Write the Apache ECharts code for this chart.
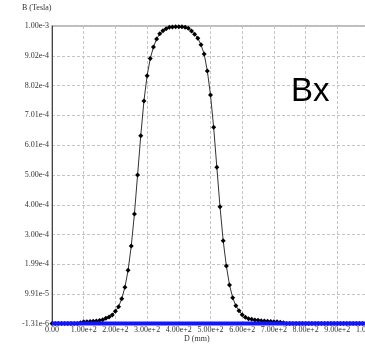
<!DOCTYPE html>
<html>
<head>
<meta charset="utf-8">
<script src="https://cdn.jsdelivr.net/npm/echarts@6/dist/echarts.min.js"></script>
<style>
  html, body { margin: 0; padding: 0; background: #fff; }
  #chart { width: 365px; height: 354px; }
</style>
</head>
<body>
<div id="chart"></div>
<script>
// Position along the path (mm)
const positions = [
  0, 10, 20, 30, 40, 50, 60, 70, 80, 90,
  100, 110, 120, 130, 140, 150, 160, 170, 180, 190,
  200, 210, 220, 230, 240, 250, 260, 270, 280, 290,
  300, 310, 320, 330, 340, 350, 360, 370, 380, 390,
  400, 410, 420, 430, 440, 450, 460, 470, 480, 490,
  500, 510, 520, 530, 540, 550, 560, 570, 580, 590,
  600, 610, 620, 630, 640, 650, 660, 670, 680, 690,
  700, 710, 720, 730, 740, 750, 760, 770, 780, 790,
  800, 810, 820, 830, 840, 850, 860, 870, 880, 890,
  900, 910, 920, 930, 940, 950, 960, 970, 980, 990, 1000
];

// Bx component (Tesla)
const bx = [
  0, 0, 0, 0, 0, 0, 0, 0, 0, 3.0e-6,
  6.0e-6, 6.5e-6, 7.2e-6, 8.0e-6, 9.0e-6, 1.05e-5, 1.32e-5, 1.79e-5, 2.23e-5, 2.9e-5,
  4.15e-5, 5.7e-5, 8.39e-5, 1.223e-4, 1.796e-4, 2.614e-4, 3.692e-4, 5.006e-4, 6.329e-4, 7.498e-4,
  8.35e-4, 8.93e-4, 9.317e-4, 9.586e-4, 9.765e-4, 9.866e-4, 9.933e-4, 9.98e-4, 9.993e-4, 1.0e-3,
  1.0e-3, 9.995e-4, 9.98e-4, 9.947e-4, 9.856e-4, 9.745e-4, 9.61e-4, 9.394e-4, 9.081e-4, 8.509e-4,
  7.70e-4, 6.612e-4, 5.265e-4, 3.938e-4, 2.793e-4, 1.941e-4, 1.301e-4, 8.73e-5, 6.03e-5, 4.35e-5,
  3.0e-5, 2.13e-5, 1.66e-5, 1.45e-5, 1.22e-5, 1.12e-5, 1.0e-5, 9.0e-6, 8.0e-6, 7.2e-6,
  6.5e-6, 6.0e-6, 5.0e-6, 3.0e-6, 0, 0, 0, 0, 0, 0,
  0, 0, 0, 0, 0, 0, 0, 0, 0, 0,
  0, 0, 0, 0, 0, 0, 0, 0, 0, 0, 0
];

// Reference trace along the bottom
const baseline = positions.map(() => 0);

const xTickLabels = [
  '0.00', '1.00e+2', '2.00e+2', '3.00e+2', '4.00e+2', '5.00e+2',
  '6.00e+2', '7.00e+2', '8.00e+2', '9.00e+2', '1.00e+3'
];
const yTickLabels = [
  '-1.31e-6', '9.91e-5', '1.99e-4', '3.00e-4', '4.00e-4', '5.00e-4',
  '6.01e-4', '7.01e-4', '8.02e-4', '9.02e-4', '1.00e-3'
];

// Y scale: ten equal divisions starting at the minimum
const yMin = -1.31e-6;
const yStep = 1.0037e-4;
const yTickValues = yTickLabels.map((_, i) => yMin + i * yStep);

const serif = '"Liberation Serif", "DejaVu Serif", serif';
const dashed = { color: '#c4c4c4', width: 1, type: [3, 2] };

const chart = echarts.init(document.getElementById('chart'), null, { renderer: 'canvas' });
chart.setOption({
  animation: false,
  backgroundColor: '#fff',
  title: [
    { text: 'B (Tesla)', left: 22, top: 4, padding: 0,
      textStyle: { fontFamily: serif, fontSize: 8, fontWeight: 'normal', color: '#333' } },
    { text: 'D (mm)', left: 184, top: 335, padding: 0,
      textStyle: { fontFamily: serif, fontSize: 8, fontWeight: 'normal', color: '#333' } },
    { text: 'Bx', left: 291, top: 75, padding: 0,
      textStyle: { fontFamily: '"Liberation Sans", Arial, sans-serif', fontSize: 33, fontWeight: 'normal', color: '#000' } }
  ],
  grid: {
    left: 52, right: -4, top: 26, bottom: 30,
    outerBoundsMode: 'none',
    containLabel: false,
    show: true, borderColor: '#a8a8a8', borderWidth: 1.5
  },
  xAxis: {
    type: 'value', min: 0, max: 1000, interval: 100,
    axisLine: { show: false },
    axisTick: { show: false },
    splitLine: { show: true, lineStyle: dashed },
    axisLabel: {
      margin: 2, fontFamily: serif, fontSize: 8, color: '#333',
      hideOverlap: false,
      formatter: (v) => xTickLabels[Math.round(v / 100)]
    }
  },
  yAxis: {
    type: 'value', min: yMin, max: yMin + 10 * yStep,
    axisLine: { show: true, onZero: false, lineStyle: { color: '#444', width: 1 } },
    axisTick: { show: false, customValues: yTickValues },
    splitLine: { show: true, lineStyle: dashed },
    axisLabel: {
      customValues: yTickValues,
      margin: 3, fontFamily: serif, fontSize: 8, color: '#333',
      padding: [0, 0, 9, 0],
      formatter: (v) => yTickLabels[Math.round((v - yMin) / yStep)]
    }
  },
  series: [
    {
      name: 'Bx', type: 'line',
      data: positions.map((d, i) => [d, bx[i]]),
      symbol: 'diamond', symbolSize: [5, 5], showSymbol: true,
      lineStyle: { color: '#333', width: 1 },
      itemStyle: { color: '#000' },
      z: 2
    },
    {
      name: 'base', type: 'line',
      data: positions.map((d, i) => [d, baseline[i]]),
      symbol: 'none',
      lineStyle: { color: '#1414ff', width: 4 },
      z: 3
    }
  ]
});
</script>
</body>
</html>
